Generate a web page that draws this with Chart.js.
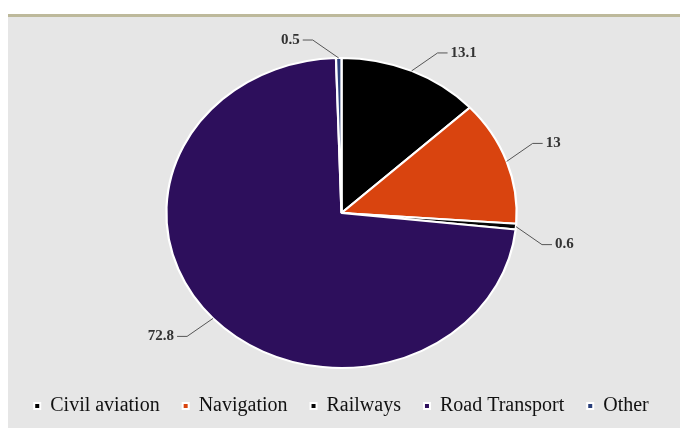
<!DOCTYPE html>
<html>
<head>
<meta charset="utf-8">
<script src="https://cdn.jsdelivr.net/npm/chart.js@4"></script>
<style>
  body { margin: 0; background: #ffffff; }
  .panel {
    position: absolute; left: 8px; top: 14px; width: 672px; height: 411px;
    background: #e6e6e6; border-top: 3px solid #bdb99b;
  }
  #transportChart { position: absolute; left: 0; top: 0; }
</style>
</head>
<body>
<div class="panel"></div>
<canvas id="transportChart" width="680" height="428" role="img" aria-label="Share by transport mode"></canvas>
<script>
// data
const categories = ["Civil aviation", "Navigation", "Railways", "Road Transport", "Other"];
const shares = [13.1, 13, 0.6, 72.8, 0.5];
const sliceColors = ["#000000", "#d9440f", "#050505", "#2d0f5c", "#2a3f7a"];

// the original pie is a bit wider than tall
const stretchX = 1.13;
const serif = "Liberation Serif, Times New Roman, serif";

const ellipsePlugin = {
    id: "ellipse",
    beforeDatasetsDraw: function (chart) {
        const arc = chart.getDatasetMeta(0).data[0];
        const ctx = chart.ctx;
        ctx.save();
        ctx.translate(arc.x, arc.y);
        ctx.scale(stretchX, 1);
        ctx.translate(-arc.x, -arc.y);
    },
    afterDatasetsDraw: function (chart) {
        chart.ctx.restore();
    },
};

// value labels with a short bent leader line, excel style
const leaderLabels = {
    id: "leaderLabels",
    afterDatasetsDraw: function (chart) {
        const ctx = chart.ctx;
        const values = chart.data.datasets[0].data;
        ctx.save();
        ctx.strokeStyle = "#555555";
        ctx.lineWidth = 1;
        ctx.fillStyle = "#333333";
        ctx.font = "bold 15px " + serif;
        ctx.textBaseline = "middle";
        chart.getDatasetMeta(0).data.forEach(function (el, i) {
            const p = el.getProps(["x", "y", "startAngle", "endAngle", "outerRadius"], true);
            const mid = (p.startAngle + p.endAngle) / 2;
            const c = Math.cos(mid), s = Math.sin(mid);
            const side = c >= 0 ? 1 : -1;
            const x0 = p.x + c * p.outerRadius * stretchX;
            const y0 = p.y + s * p.outerRadius;
            const x1 = x0 + side * 26;
            const y1 = y0 + (s < 0 ? -18 : 18);
            const x2 = x1 + side * 10;
            ctx.beginPath();
            ctx.moveTo(x0, y0);
            ctx.lineTo(x1, y1);
            ctx.lineTo(x2, y1);
            ctx.stroke();
            ctx.textAlign = side > 0 ? "left" : "right";
            ctx.fillText(String(values[i]), x2 + side * 3, y1);
        });
        ctx.restore();
    },
};

new Chart(document.getElementById("transportChart").getContext("2d"), {
    type: "pie",
    data: {
        labels: categories,
        datasets: [
            {
                data: shares,
                backgroundColor: sliceColors,
                borderColor: "#ffffff",
                borderWidth: 2,
                radius: 155,
            },
        ],
    },
    options: {
        responsive: false,
        animation: false,
        layout: { padding: { top: 53, bottom: 2, left: 3, right: 0 } },
        plugins: {
            legend: {
                position: "bottom",
                labels: {
                    boxWidth: 6,
                    boxHeight: 6,
                    padding: 23,
                    color: "#111111",
                    font: { family: serif, size: 20 },
                },
            },
            tooltip: { enabled: false },
        },
    },
    plugins: [ellipsePlugin, leaderLabels],
});
</script>
</body>
</html>
